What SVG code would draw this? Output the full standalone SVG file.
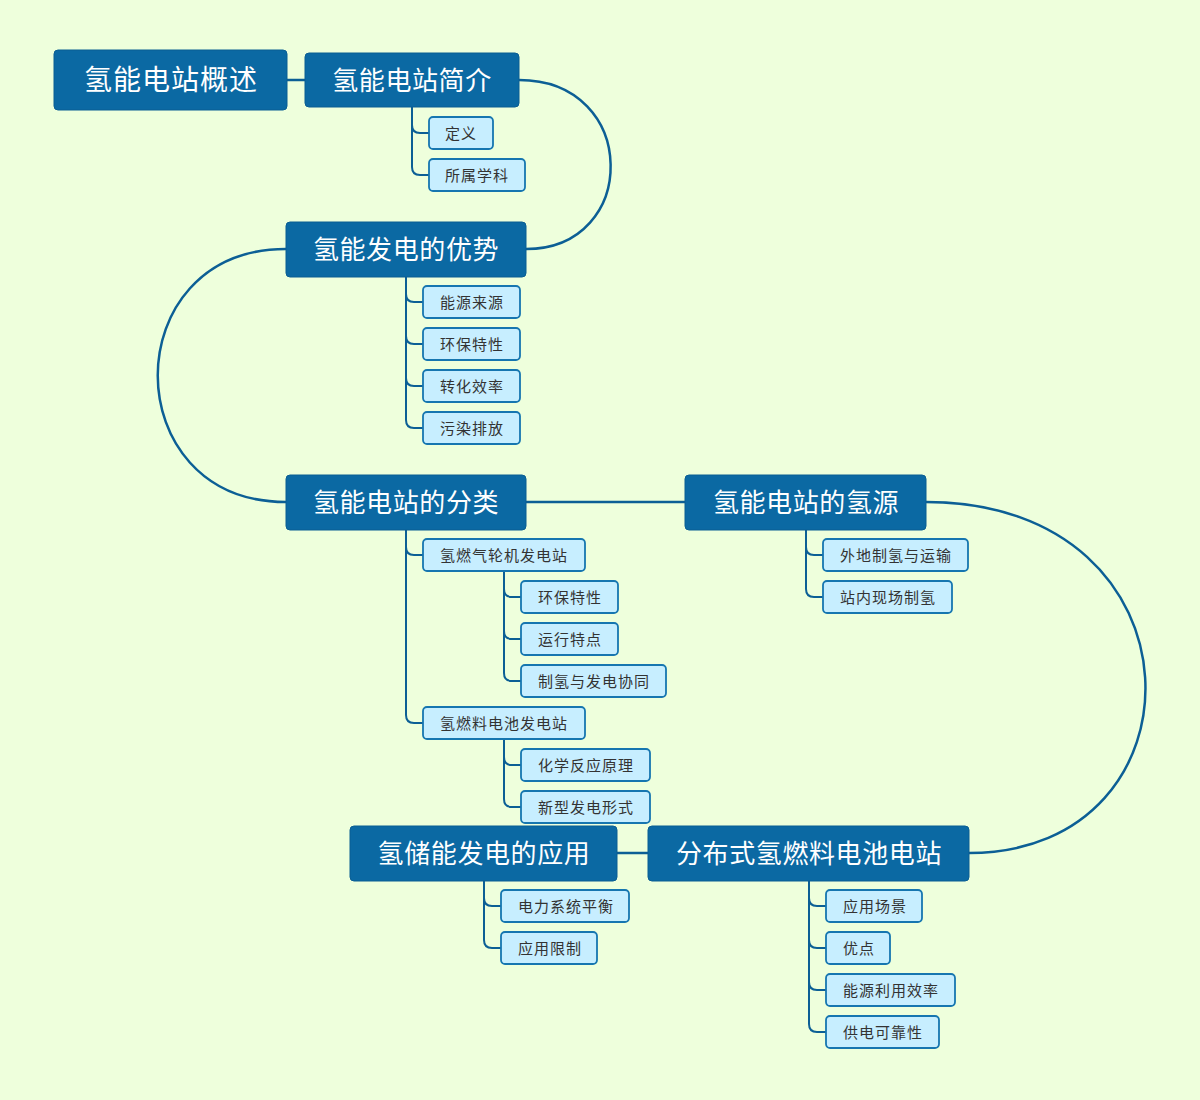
<svg xmlns="http://www.w3.org/2000/svg" width="1200" height="1100" viewBox="0 0 1200 1100">
<style>
.bg{fill:#eeffdc}
.m rect{fill:#0b69a3;stroke:#0a5e93;stroke-width:1}
.m text{fill:#ffffff;font-family:"Noto Sans CJK SC","Noto Sans",sans-serif;font-size:26px;letter-spacing:0.6px;text-anchor:middle;dominant-baseline:central;transform:translateY(-2px)}
.m.root text{font-size:28px;letter-spacing:1px}
.s rect{fill:#c7eeff;stroke:#1676b0;stroke-width:1.8}
.s text{fill:#333333;font-family:"Noto Sans CJK SC","Noto Sans",sans-serif;font-size:15px;letter-spacing:1px;text-anchor:middle;dominant-baseline:central;transform:translateY(-1px)}
.c path{fill:none;stroke:#0c5f95;stroke-linecap:round}
.c .main{stroke-width:2.5}
.c .sub{stroke-width:2}
</style>
<rect class="bg" x="0" y="0" width="1200" height="1100"/>
<g class="c" id="connectors">
<path class="main" d="M287,80 H305"/>
<path class="main" d="M519,80 C640,80 640,249 526,249"/>
<path class="main" d="M286,249 C115,249 115,502 286,502"/>
<path class="main" d="M526,502 H685"/>
<path class="main" d="M926,502 C1211,502 1211,853 969,853"/>
<path class="main" d="M648,853 H617"/>
<path class="sub" d="M412,107 V125 Q412,133 420,133 H429"/>
<path class="sub" d="M412,107 V167 Q412,175 420,175 H429"/>
<path class="sub" d="M406,277 V294 Q406,302 414,302 H423"/>
<path class="sub" d="M406,277 V336 Q406,344 414,344 H423"/>
<path class="sub" d="M406,277 V378 Q406,386 414,386 H423"/>
<path class="sub" d="M406,277 V420 Q406,428 414,428 H423"/>
<path class="sub" d="M406,530 V547 Q406,555 414,555 H423"/>
<path class="sub" d="M406,530 V715 Q406,723 414,723 H423"/>
<path class="sub" d="M504,571 V589 Q504,597 512,597 H521"/>
<path class="sub" d="M504,571 V631 Q504,639 512,639 H521"/>
<path class="sub" d="M504,571 V673 Q504,681 512,681 H521"/>
<path class="sub" d="M504,739 V757 Q504,765 512,765 H521"/>
<path class="sub" d="M504,739 V799 Q504,807 512,807 H521"/>
<path class="sub" d="M806,530 V547 Q806,555 814,555 H823"/>
<path class="sub" d="M806,530 V589 Q806,597 814,597 H823"/>
<path class="sub" d="M484,881 V898 Q484,906 492,906 H501"/>
<path class="sub" d="M484,881 V940 Q484,948 492,948 H501"/>
<path class="sub" d="M809,881 V898 Q809,906 817,906 H826"/>
<path class="sub" d="M809,881 V940 Q809,948 817,948 H826"/>
<path class="sub" d="M809,881 V982 Q809,990 817,990 H826"/>
<path class="sub" d="M809,881 V1024 Q809,1032 817,1032 H826"/>
</g>
<g id="n1" class="m root"><rect x="54" y="50" width="233" height="60" rx="4"/><text x="171" y="80">氢能电站概述</text></g>
<g id="n2" class="m"><rect x="305" y="53" width="214" height="54" rx="4"/><text x="412" y="80">氢能电站简介</text></g>
<g id="n3" class="m"><rect x="286" y="222" width="240" height="55" rx="4"/><text x="406" y="249">氢能发电的优势</text></g>
<g id="n4" class="m"><rect x="286" y="475" width="240" height="55" rx="4"/><text x="406" y="502">氢能电站的分类</text></g>
<g id="n5" class="m"><rect x="685" y="475" width="241" height="55" rx="4"/><text x="806" y="502">氢能电站的氢源</text></g>
<g id="n6" class="m"><rect x="350" y="826" width="267" height="55" rx="4"/><text x="484" y="853">氢储能发电的应用</text></g>
<g id="n7" class="m"><rect x="648" y="826" width="321" height="55" rx="4"/><text x="809" y="853">分布式氢燃料电池电站</text></g>
<g id="s1" class="s"><rect x="429" y="117" width="64" height="32" rx="4"/><text x="461" y="133">定义</text></g>
<g id="s2" class="s"><rect x="429" y="159" width="96" height="32" rx="4"/><text x="477" y="175">所属学科</text></g>
<g id="s3" class="s"><rect x="423" y="286" width="97" height="32" rx="4"/><text x="472" y="302">能源来源</text></g>
<g id="s4" class="s"><rect x="423" y="328" width="97" height="32" rx="4"/><text x="472" y="344">环保特性</text></g>
<g id="s5" class="s"><rect x="423" y="370" width="97" height="32" rx="4"/><text x="472" y="386">转化效率</text></g>
<g id="s6" class="s"><rect x="423" y="412" width="97" height="32" rx="4"/><text x="472" y="428">污染排放</text></g>
<g id="s7" class="s"><rect x="423" y="539" width="162" height="32" rx="4"/><text x="504" y="555">氢燃气轮机发电站</text></g>
<g id="s8" class="s"><rect x="521" y="581" width="97" height="32" rx="4"/><text x="570" y="597">环保特性</text></g>
<g id="s9" class="s"><rect x="521" y="623" width="97" height="32" rx="4"/><text x="570" y="639">运行特点</text></g>
<g id="s10" class="s"><rect x="521" y="665" width="145" height="32" rx="4"/><text x="594" y="681">制氢与发电协同</text></g>
<g id="s11" class="s"><rect x="423" y="707" width="162" height="32" rx="4"/><text x="504" y="723">氢燃料电池发电站</text></g>
<g id="s12" class="s"><rect x="521" y="749" width="129" height="32" rx="4"/><text x="586" y="765">化学反应原理</text></g>
<g id="s13" class="s"><rect x="521" y="791" width="129" height="32" rx="4"/><text x="586" y="807">新型发电形式</text></g>
<g id="s14" class="s"><rect x="823" y="539" width="145" height="32" rx="4"/><text x="896" y="555">外地制氢与运输</text></g>
<g id="s15" class="s"><rect x="823" y="581" width="129" height="32" rx="4"/><text x="888" y="597">站内现场制氢</text></g>
<g id="s16" class="s"><rect x="501" y="890" width="128" height="32" rx="4"/><text x="566" y="906">电力系统平衡</text></g>
<g id="s17" class="s"><rect x="501" y="932" width="96" height="32" rx="4"/><text x="550" y="948">应用限制</text></g>
<g id="s18" class="s"><rect x="826" y="890" width="96" height="32" rx="4"/><text x="875" y="906">应用场景</text></g>
<g id="s19" class="s"><rect x="826" y="932" width="64" height="32" rx="4"/><text x="859" y="948">优点</text></g>
<g id="s20" class="s"><rect x="826" y="974" width="129" height="32" rx="4"/><text x="891" y="990">能源利用效率</text></g>
<g id="s21" class="s"><rect x="826" y="1016" width="113" height="32" rx="4"/><text x="883" y="1032">供电可靠性</text></g>
</svg>
